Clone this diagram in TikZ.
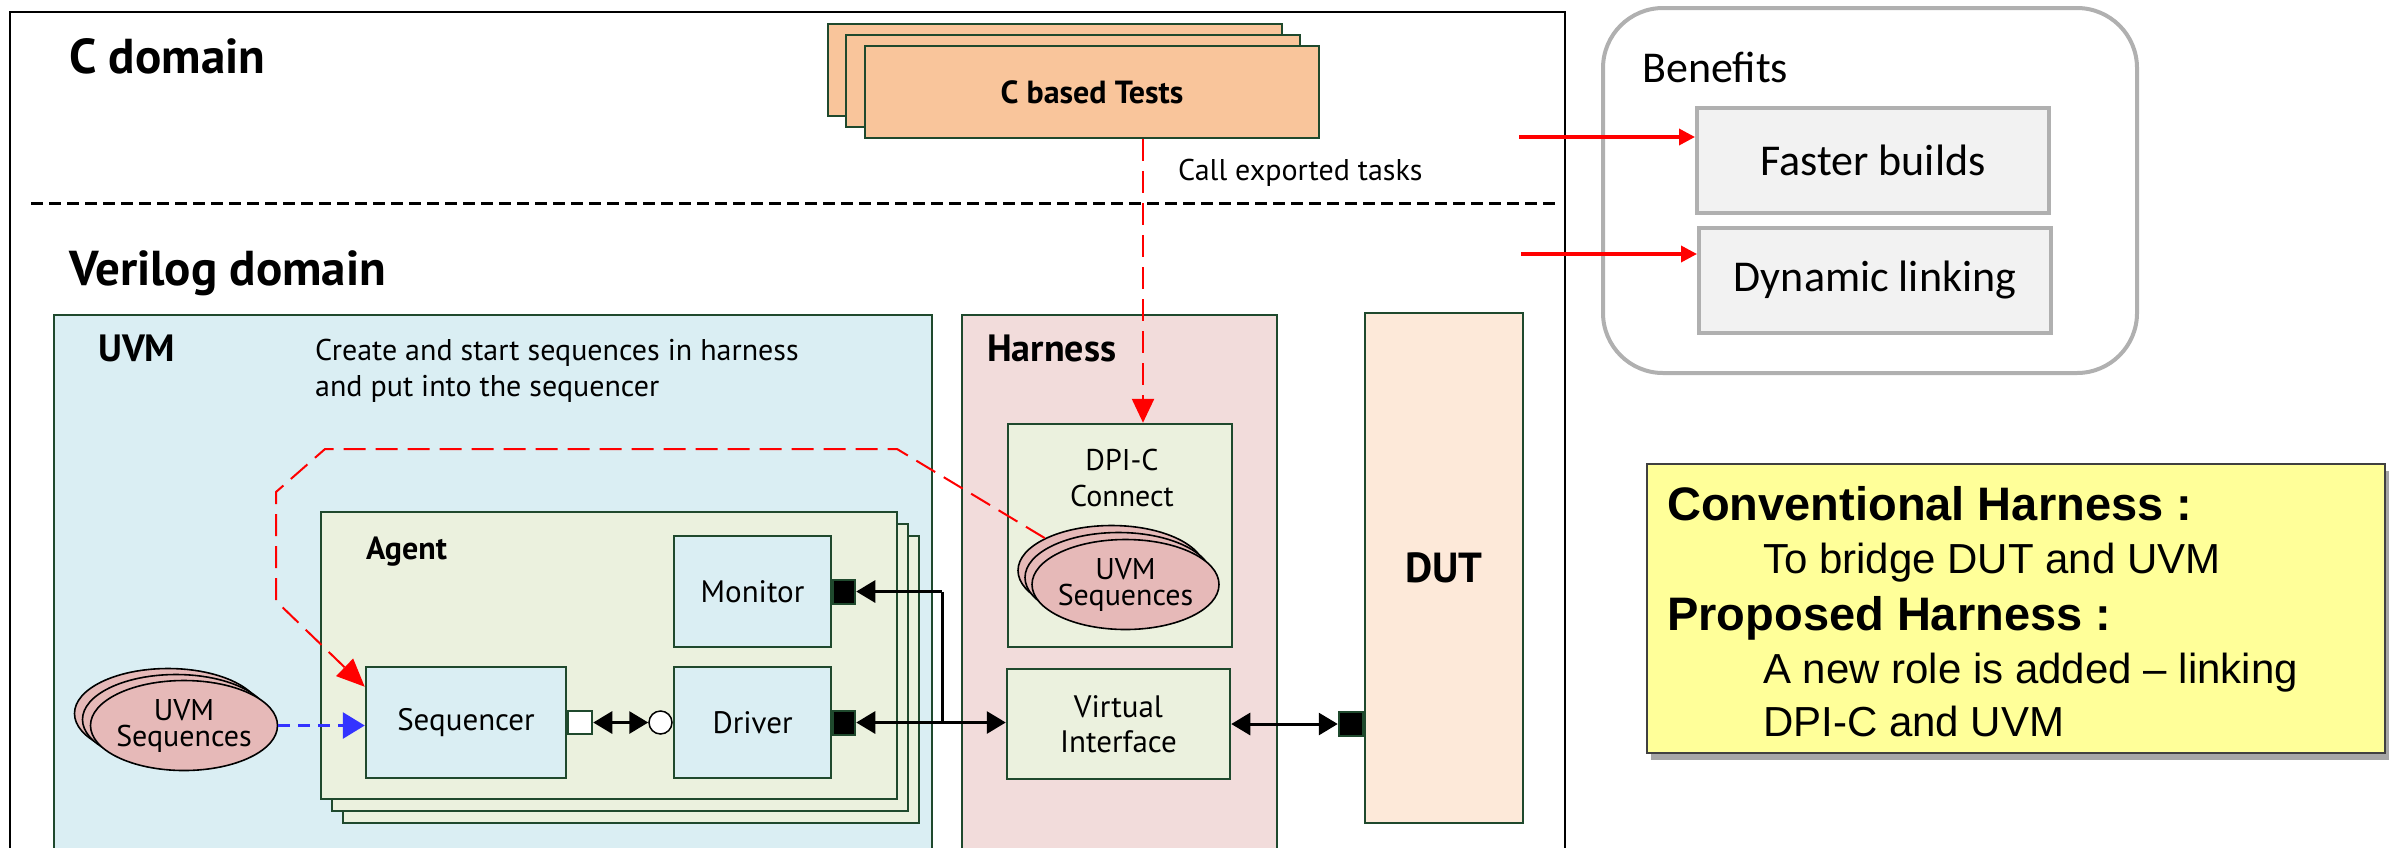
\documentclass[tikz,border=0pt]{standalone}
\usepackage{fontspec}
\setmainfont{PT Sans}
\newfontfamily\calibrifont{Carlito}
\newfontfamily\arialfont{Liberation Sans}
\usetikzlibrary{arrows.meta,shapes.geometric,shadows}

\definecolor{edgeGreen}{RGB}{31,73,45}
\definecolor{testOrange}{RGB}{249,197,155}
\definecolor{uvmBlue}{RGB}{218,238,243}
\definecolor{agentGreen}{RGB}{235,241,222}
\definecolor{harnessPink}{RGB}{242,220,219}
\definecolor{dutPeach}{RGB}{253,233,217}
\definecolor{seqPink}{RGB}{230,185,184}
\definecolor{noteYellow}{RGB}{255,255,153}
\definecolor{benefitGray}{RGB}{176,176,176}
\definecolor{boxGray}{RGB}{242,242,242}
\definecolor{flowBlue}{RGB}{51,51,255}

\begin{document}
\begin{tikzpicture}[x=1pt, y=-1pt,
    block/.style={rectangle, draw=edgeGreen, line width=2.5pt, inner sep=0pt},
    seqCloud/.style={ellipse, draw=black, line width=1.6pt, fill=seqPink, inner sep=0pt, minimum width=187pt, minimum height=90pt},
    heading/.style={inner sep=0pt, anchor=base west, font=\fontsize{38}{38}\selectfont\bfseries},
    boxText/.style={inner sep=0pt, align=center, font=\fontsize{31}{35}\selectfont},
    cloudText/.style={inner sep=0pt, align=center, font=\fontsize{30}{26}\selectfont},
    port/.style={rectangle, draw=edgeGreen, line width=2pt, minimum width=22pt, minimum height=24pt, inner sep=0pt},
    redFlow/.style={red, line width=2.5pt, dash pattern=on 22pt off 10pt},
    wire/.style={line width=3pt},
    tip/.tip={Triangle[length=19pt,width=22pt]},
    benefit/.style={rectangle, draw=benefitGray, line width=4pt, fill=boxGray, minimum width=352pt, minimum height=105pt, font=\calibrifont\fontsize{44}{44}\selectfont},
    noteBold/.style={inner sep=0pt, anchor=base west, font=\arialfont\fontsize{47}{53}\selectfont\bfseries},
    noteText/.style={inner sep=0pt, anchor=base west, font=\arialfont\fontsize{42}{53}\selectfont}
  ]
\useasboundingbox (0,0) rectangle (2392,847);

\draw[line width=2pt] (10,12) rectangle (1565,900);
\node[inner sep=0pt, anchor=base west, font=\fontsize{49}{49}\selectfont\bfseries] (cDomain) at (69,73) {C domain};
\node[inner sep=0pt, anchor=base west, font=\fontsize{49}{49}\selectfont\bfseries] (vDomain) at (69,285) {Verilog domain};
\draw[line width=3pt, dash pattern=on 12pt off 6pt] (31,203) -- (1560,203);

\node[block, fill=testOrange, minimum width=454pt, minimum height=92pt] (ctBack) at (1055,70) {};
\node[block, fill=testOrange, minimum width=454pt, minimum height=92pt] (ctMid) at (1073,81) {};
\node[block, fill=testOrange, minimum width=454pt, minimum height=92pt, font=\fontsize{32}{32}\selectfont\bfseries] (cTests) at (1092,92) {C based Tests};
\node[inner sep=0pt, anchor=base west, font=\fontsize{30}{30}\selectfont] (callText) at (1178,180) {Call exported tasks};

\node[block, fill=uvmBlue, minimum width=878pt, minimum height=565pt] (uvm) at (493,597.5) {};
\node[heading] (uvmTitle) at (98,361) {UVM};
\node[inner sep=0pt, anchor=base west, align=left, font=\fontsize{30}{36}\selectfont] (createText) at (315,396) {Create and start sequences in harness\\and put into the sequencer};

\node[block, fill=harnessPink, minimum width=315pt, minimum height=565pt] (harness) at (1119.5,597.5) {};
\node[heading] (harnessTitle) at (987,361) {Harness};
\node[block, fill=dutPeach, minimum width=158pt, minimum height=510pt, font=\fontsize{42}{42}\selectfont\bfseries] (dut) at (1444,568) {DUT};

\node[block, fill=agentGreen, minimum width=576pt, minimum height=287pt] (agentBack) at (631,679.5) {};
\node[block, fill=agentGreen, minimum width=576pt, minimum height=287pt] (agentMid) at (620,667.5) {};
\node[block, fill=agentGreen, minimum width=576pt, minimum height=287pt] (agent) at (609,655.5) {};
\node[heading, font=\fontsize{32}{32}\selectfont\bfseries] (agentTitle) at (366,559) {Agent};

\node[block, fill=uvmBlue, minimum width=157pt, minimum height=111pt, boxText] (monitor) at (752.5,591.5) {Monitor};
\node[block, fill=uvmBlue, minimum width=157pt, minimum height=111pt, boxText] (driver) at (752.5,722.5) {Driver};
\node[block, fill=uvmBlue, minimum width=200pt, minimum height=111pt, boxText] (seq) at (466,722.5) {Sequencer};

\node[port, fill=white, minimum width=24pt, minimum height=23pt, anchor=west] (seqPort) at (seq.east) {};
\node[circle, draw=black, line width=1.5pt, fill=white, minimum size=23pt, inner sep=0pt, anchor=east] (drvCirc) at (driver.west) {};
\node[port, fill=black, anchor=west] (monPort) at (monitor.east) {};
\node[port, fill=black, anchor=west] (drvPort) at (driver.east) {};

\node[seqCloud] (leftSeqC) at (168,713.5) {};
\node[seqCloud] (leftSeqB) at (176,719.5) {};
\node[seqCloud] (leftSeqA) at (184,725.5) {};
\node[cloudText] (leftSeqText) at (leftSeqA.center) {UVM\\Sequences};

\node[block, fill=agentGreen, minimum width=224pt, minimum height=223pt] (dpiBox) at (1120,535.5) {};
\node[boxText, font=\fontsize{30}{36}\selectfont] (dpiLabel) at (1122,478) {DPI-C\\Connect};
\node[seqCloud] (dpiSeqC) at (1111.5,570.5) {};
\node[seqCloud] (dpiSeqB) at (1118.5,577.5) {};
\node[seqCloud] (dpiSeqA) at (1125.5,584.5) {};
\node[cloudText] (dpiSeqText) at (dpiSeqA.center) {UVM\\Sequences};

\node[block, fill=agentGreen, minimum width=223pt, minimum height=110pt, boxText] (vi) at (1118.5,724) {Virtual\\Interface};
\node[port, fill=black, minimum width=24pt, anchor=east] (dutPort) at (dut.west |- vi.east) {};

\coordinate (callX) at (1143,0);
\draw[redFlow, -{Triangle[length=24pt,width=22pt]}] (cTests.south -| callX) -- (dpiBox.north -| callX);
\draw[redFlow, line width=2pt, -{Triangle[length=28pt,width=24pt]}] (dpiSeqC.north west) -- (897,449) -- (325,449) -- (276,492) -- (276,601) -- ([yshift=-21pt]seq.north west);
\draw[flowBlue, line width=3pt, dash pattern=on 12pt off 8pt, -{Triangle[length=22pt,width=26pt]}] (leftSeqA.east) -- (leftSeqA.east -| seq.west);

\draw[wire, tip-tip] (seqPort.east) -- (drvCirc.west);
\coordinate (busTop) at (942,591.5);
\draw[wire, -tip] (busTop) -- (monPort.east);
\draw[wire] (busTop) -- (busTop |- drvPort.east);
\draw[wire, tip-tip] (drvPort.east) -- (drvPort.east -| vi.west);
\draw[wire, tip-tip] (vi.east) -- (dutPort.west);

\node[rectangle, draw=benefitGray, line width=4pt, rounded corners=60pt, minimum width=534pt, minimum height=365pt] (benefits) at (1870,190.5) {};
\node[inner sep=0pt, anchor=base west, font=\calibrifont\fontsize{44}{44}\selectfont] (benefitTitle) at (1642,82) {Benefits};
\node[benefit] (faster) at (1873,160.5) {Faster builds};
\node[benefit] (dynamic) at (1875,280) {Dynamic linking};
\coordinate (fastFrom) at (1519,137);
\coordinate (dynFrom) at (1521,254);
\draw[red, line width=3.5pt, -{Triangle[length=16pt,width=16pt]}] (fastFrom) -- (fastFrom -| faster.west);
\draw[red, line width=3.5pt, -{Triangle[length=16pt,width=16pt]}] (dynFrom) -- (dynFrom -| dynamic.west);

\node[rectangle, draw=black!75, line width=2pt, fill=noteYellow, minimum width=738pt, minimum height=289pt, drop shadow={shadow xshift=4pt, shadow yshift=-7pt, fill=black, opacity=0.35}] (note) at (2016,608) {};
\node[noteBold] (convTitle) at (1667,520) {Conventional Harness :};
\node[noteText] (convText) at (1763,573) {To bridge DUT and UVM};
\node[noteBold] (propTitle) at (1667,630) {Proposed Harness :};
\node[noteText] (propText) at (1763,683) {A new role is added – linking};
\node[noteText] (propText2) at (1763,736) {DPI-C and UVM};
\end{tikzpicture}
\end{document}
